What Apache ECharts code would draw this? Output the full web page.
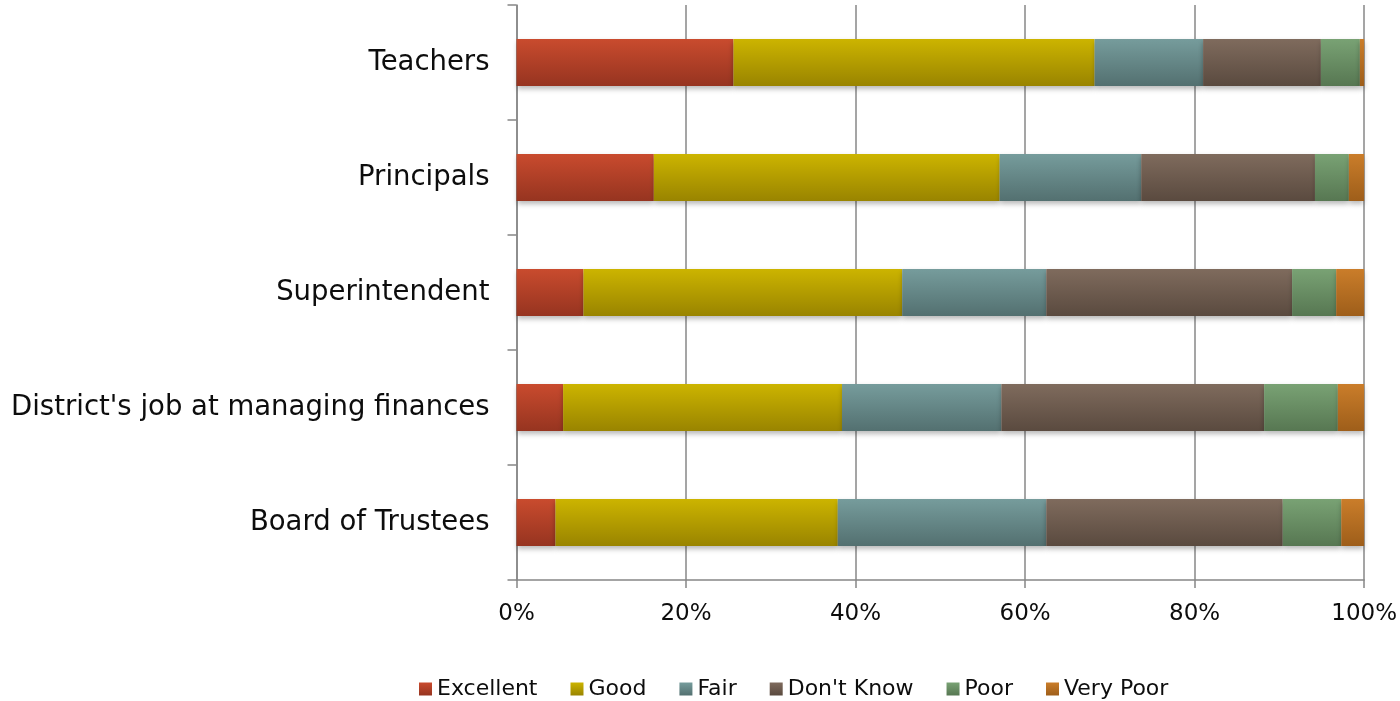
<!DOCTYPE html>
<html>
<head>
<meta charset="utf-8">
<script src="https://cdn.jsdelivr.net/npm/echarts@6/dist/echarts.min.js"></script>
<style>
  html, body { margin: 0; padding: 0; background: #ffffff; }
  #chart { width: 1400px; height: 701px; }
</style>
</head>
<body>
<div id="chart"></div>
<script>
// Survey ratings, share of responses (%) per group
const categories = ['Teachers', 'Principals', 'Superintendent', "District's job at managing finances", 'Board of Trustees'];
const ratingNames = ['Excellent', 'Good', 'Fair', "Don't Know", 'Poor', 'Very Poor'];

const excellent = [25.6, 16.2, 7.9, 5.5, 4.6];
const good      = [42.6, 40.8, 37.6, 32.9, 33.3];
const fair      = [12.8, 16.7, 17.0, 18.8, 24.6];
const dontKnow  = [13.9, 20.5, 29.0, 31.0, 27.9];
const poor      = [4.6, 4.0, 5.2, 8.7, 6.9];
const veryPoor  = [0.5, 1.8, 3.3, 3.1, 2.7];

const xTicks = [0, 20, 40, 60, 80, 100];

const seriesValues = [excellent, good, fair, dontKnow, poor, veryPoor];
const gradients = [
  ['#c94b2e', '#963420'],
  ['#ccb400', '#998400'],
  ['#769c9c', '#537070'],
  ['#7f6b5d', '#5a4a3f'],
  ['#79a274', '#577752'],
  ['#ca7d2a', '#9e5e1a']
];

const fontFamily = "'DejaVu Sans', sans-serif";
const axisGray = '#878787';
const textColor = '#0d0d0d';

const chart = echarts.init(document.getElementById('chart'));
chart.setOption({
  animation: false,
  backgroundColor: '#ffffff',
  textStyle: { fontFamily: fontFamily },
  grid: { left: 516.5, right: 35.5, top: 5, bottom: 121, containLabel: false },
  legend: {
    top: 673,
    left: 414,
    icon: 'rect',
    itemWidth: 13,
    itemHeight: 13,
    itemGap: 33,
    data: ratingNames,
    textStyle: { fontFamily: fontFamily, fontSize: 22, color: textColor }
  },
  xAxis: {
    type: 'value',
    min: xTicks[0],
    max: xTicks[xTicks.length - 1],
    interval: 20,
    axisLine: { show: true, lineStyle: { color: axisGray, width: 1.5 } },
    axisTick: { show: true, length: 8, lineStyle: { color: axisGray, width: 1.5 } },
    splitLine: { show: true, lineStyle: { color: axisGray, width: 1.5 } },
    axisLabel: {
      formatter: '{value}%',
      margin: 23,
      fontSize: 23,
      color: textColor,
      fontFamily: fontFamily
    }
  },
  yAxis: {
    type: 'category',
    inverse: true,
    data: categories,
    axisLine: { show: true, lineStyle: { color: axisGray, width: 1.5 } },
    axisTick: { show: true, length: 9, alignWithLabel: false, lineStyle: { color: axisGray, width: 1.5 } },
    axisLabel: {
      margin: 27,
      fontSize: 27.5,
      color: textColor,
      fontFamily: fontFamily
    }
  },
  series: ratingNames.map((name, i) => ({
    name: name,
    type: 'bar',
    stack: 'total',
    barWidth: 47,
    data: seriesValues[i],
    itemStyle: {
      color: new echarts.graphic.LinearGradient(0, 0, 0, 1, [
        { offset: 0, color: gradients[i][0] },
        { offset: 1, color: gradients[i][1] }
      ]),
      shadowColor: 'rgba(0,0,0,0.28)',
      shadowBlur: 5,
      shadowOffsetY: 3
    }
  }))
});
</script>
</body>
</html>
